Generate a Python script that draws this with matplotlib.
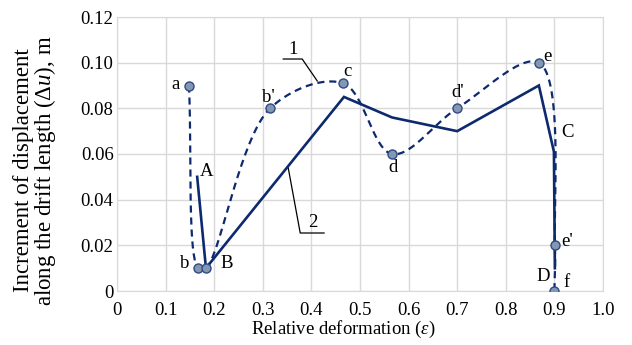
import numpy as np
import matplotlib.pyplot as plt

# curve 1 (dashed, smoothed) points
c1_names = ['a', 'b', '', "b'", 'c', 'd', "d'", 'e', "e'", 'f']
c1_x = [0.148, 0.167, 0.183, 0.315, 0.465, 0.566, 0.700, 0.868, 0.901, 0.900]
c1_y = [0.090, 0.010, 0.010, 0.080, 0.091, 0.060, 0.080, 0.100, 0.020, 0.000]

# curve 2 (solid polyline)
c2_x = [0.165, 0.183, 0.467, 0.566, 0.700, 0.868, 0.899, 0.901]
c2_y = [0.050, 0.010, 0.085, 0.076, 0.070, 0.090, 0.061, 0.010]
c2_names = ['A', 'B', '', '', '', '', 'C', 'D']

xticks = np.round(np.arange(0, 1.01, 0.1), 1)
xticklabels = ['0'] + ['%.1f' % v for v in xticks[1:]]
yticks = np.round(np.arange(0, 0.121, 0.02), 2)
yticklabels = ['0'] + ['%.2f' % v for v in yticks[1:]]

# label offsets (points) for the point names
offs = {'a': (-9.5, 0.7), 'b': (-9.5, 3.5), "b'": (-1.4, 8), 'c': (3, 8.6),
        'd': (0.7, -10), "d'": (0.7, 11.5), 'e': (6.5, 4.3), "e'": (8.6, 3),
        'f': (8.6, 5.8), 'A': (6.5, 3.6), 'B': (15, 3.6), 'C': (10, 14),
        'D': (-8.6, -6)}

navy = '#0E2A6E'
mfill = '#8497B0'
grid_c = '#D9D9D9'

plt.rcParams['font.family'] = 'Liberation Serif'
plt.rcParams['mathtext.fontset'] = 'custom'
plt.rcParams['mathtext.rm'] = 'Liberation Serif'
plt.rcParams['mathtext.it'] = 'Liberation Serif:italic'
fs = 13.5

SX, SY = 486.0, 2283.0  # px per data unit, for an even-looking spline


def catmull_rom(xs, ys, n=40, alpha=0.5):
    P = np.column_stack([np.asarray(xs) * SX, np.asarray(ys) * SY])
    P = np.vstack([2 * P[0] - P[1], P, 2 * P[-1] - P[-2]])
    out = []
    for i in range(1, len(P) - 2):
        p0, p1, p2, p3 = P[i - 1:i + 3]
        t0 = 0.0
        t1 = t0 + np.linalg.norm(p1 - p0) ** alpha
        t2 = t1 + np.linalg.norm(p2 - p1) ** alpha
        t3 = t2 + np.linalg.norm(p3 - p2) ** alpha
        t = np.linspace(t1, t2, n)[:, None]
        a1 = (t1 - t) / (t1 - t0) * p0 + (t - t0) / (t1 - t0) * p1
        a2 = (t2 - t) / (t2 - t1) * p1 + (t - t1) / (t2 - t1) * p2
        a3 = (t3 - t) / (t3 - t2) * p2 + (t - t2) / (t3 - t2) * p3
        b1 = (t2 - t) / (t2 - t0) * a1 + (t - t0) / (t2 - t0) * a2
        b2 = (t3 - t) / (t3 - t1) * a2 + (t - t1) / (t3 - t1) * a3
        out.append((t2 - t) / (t2 - t1) * b1 + (t - t1) / (t2 - t1) * b2)
    pts = np.vstack(out)
    return pts[:, 0] / SX, pts[:, 1] / SY


fig = plt.figure(figsize=(6.32, 3.45), dpi=100)
ax = fig.add_axes([117 / 632, 54 / 345, 486 / 632, 274 / 345])

sx, sy = catmull_rom(c1_x, c1_y)
ax.plot(sx, sy, color=navy, lw=1.6, ls=(0, (3.2, 2.2)), zorder=3)
ax.plot(c2_x, c2_y, color=navy, lw=1.9, zorder=3, solid_joinstyle='miter')
ax.plot(c1_x, c1_y, ls='none', marker='o', ms=6.5, mfc=mfill, mec='#2E4A86',
        mew=1.0, zorder=4)

for nm, x, y in list(zip(c1_names, c1_x, c1_y)) + list(zip(c2_names, c2_x, c2_y)):
    if nm:
        ax.annotate(nm, (x, y), xytext=offs[nm], textcoords='offset points',
                    ha='center', va='center', fontsize=fs, zorder=5)

# leader lines for curve numbers
ax.plot([0.342, 0.381, 0.412], [0.1016, 0.1016, 0.092], color='black', lw=0.9)
ax.text(0.362, 0.1022, '1', ha='center', va='bottom', fontsize=fs)
ax.plot([0.352, 0.377, 0.426], [0.0543, 0.0254, 0.0254], color='black', lw=0.9)
ax.text(0.403, 0.0262, '2', ha='center', va='bottom', fontsize=fs)

ax.set_xlim(0, 1.0)
ax.set_ylim(0, 0.12)
ax.set_xticks(xticks)
ax.set_xticklabels(xticklabels)
ax.set_yticks(yticks)
ax.set_yticklabels(yticklabels)
ax.tick_params(length=0, labelsize=fs)
ax.tick_params(axis='x', pad=8)
ax.tick_params(axis='y', pad=2.5)
ax.grid(True, color=grid_c, lw=1.0)
ax.set_axisbelow(True)
for s in ax.spines.values():
    s.set_color(grid_c)

ax.set_xlabel(r'Relative deformation ($\mathit{\varepsilon}$)', fontsize=fs)
ax.xaxis.set_label_coords(0.465, -0.1)
ax.set_ylabel('Increment of displacement\n'
              r'along the drift length ($\mathit{Δu}$), m',
              fontsize=16.5, linespacing=0.9)
ax.yaxis.set_label_coords(-0.122, 0.44)

fig.savefig('out.png', dpi=100)
